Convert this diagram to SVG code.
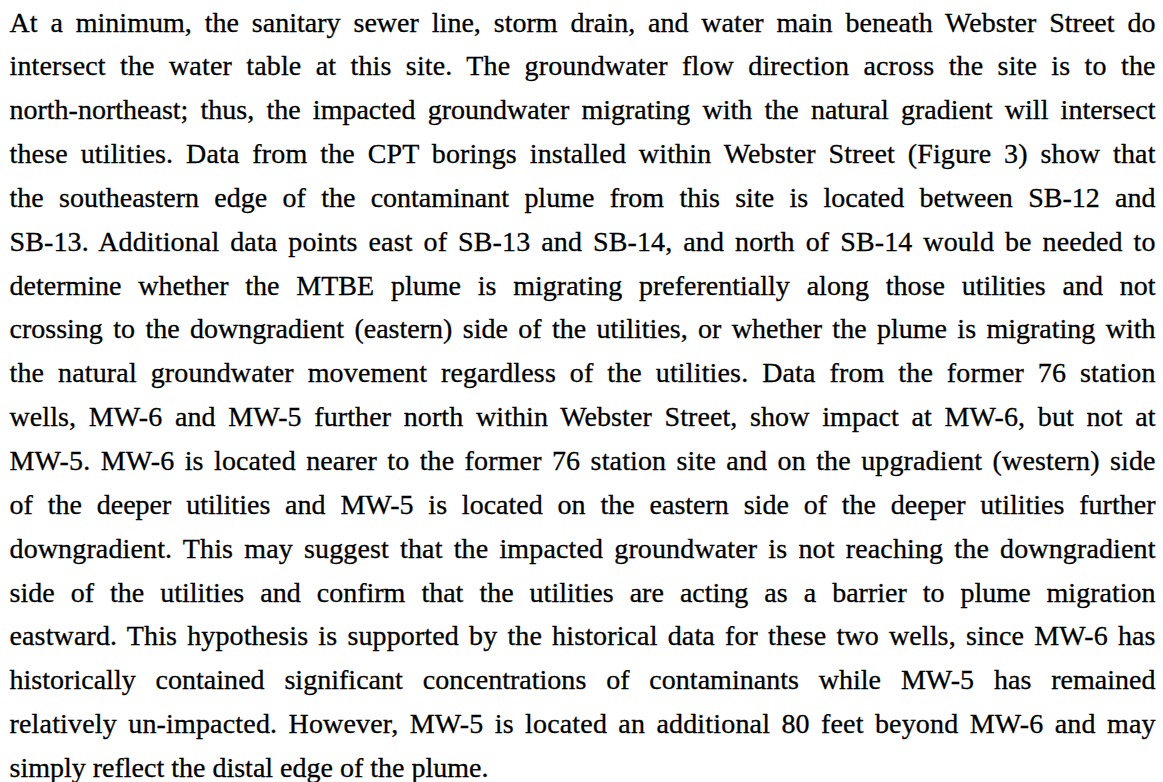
<svg xmlns="http://www.w3.org/2000/svg" width="1163" height="782" viewBox="0 0 1163 782">
<style>
.t{font-family:'Liberation Serif','Times New Roman','DejaVu Serif',serif;font-size:28px;fill:#000;stroke:#000;stroke-width:0.3px;}
</style>
<rect width="1163" height="782" fill="#fff"/>
<g id="paragraph" font-family="Liberation Serif, Times New Roman, DejaVu Serif, serif" font-size="28" xml:space="preserve">
<text class="t" x="9.5" y="31.5" word-spacing="5.8" textLength="1146" lengthAdjust="spacing">At a minimum, the sanitary sewer line, storm drain, and water main beneath Webster Street do</text>
<text class="t" x="9.5" y="75.35" word-spacing="7.1" textLength="1146" lengthAdjust="spacing">intersect the water table at this site.  The groundwater flow direction across the site is to the</text>
<text class="t" x="9.5" y="119.2" word-spacing="5.2" textLength="1146" lengthAdjust="spacing">north-northeast; thus, the impacted groundwater migrating with the natural gradient will intersect</text>
<text class="t" x="9.5" y="163.05" word-spacing="5.6" textLength="1146" lengthAdjust="spacing">these utilities.  Data from the CPT borings installed within Webster Street (Figure 3) show that</text>
<text class="t" x="9.5" y="206.9" word-spacing="8.3" textLength="1146" lengthAdjust="spacing">the southeastern edge of the contaminant plume from this site is located between SB-12 and</text>
<text class="t" x="9.5" y="250.75" word-spacing="3.8" textLength="1146" lengthAdjust="spacing">SB-13.  Additional data points east of SB-13 and SB-14, and north of SB-14 would be needed to</text>
<text class="t" x="9.5" y="294.6" word-spacing="9.8" textLength="1146" lengthAdjust="spacing">determine whether the MTBE plume is migrating preferentially along those utilities and not</text>
<text class="t" x="9.5" y="338.45" word-spacing="3.4" textLength="1146" lengthAdjust="spacing">crossing to the downgradient (eastern) side of the utilities, or whether the plume is migrating with</text>
<text class="t" x="9.5" y="382.3" word-spacing="6.7" textLength="1146" lengthAdjust="spacing">the natural groundwater movement regardless of the utilities.  Data from the former 76 station</text>
<text class="t" x="9.5" y="426.15" word-spacing="5.6" textLength="1146" lengthAdjust="spacing">wells, MW-6 and MW-5 further north within Webster Street, show impact at MW-6, but not at</text>
<text class="t" x="9.5" y="470" word-spacing="3.2" textLength="1146" lengthAdjust="spacing">MW-5.  MW-6 is located nearer to the former 76 station site and on the upgradient (western) side</text>
<text class="t" x="9.5" y="513.85" word-spacing="7.8" textLength="1146" lengthAdjust="spacing">of the deeper utilities and MW-5 is located on the eastern side of the deeper utilities further</text>
<text class="t" x="9.5" y="557.7" word-spacing="4.0" textLength="1146" lengthAdjust="spacing">downgradient.  This may suggest that the impacted groundwater is not reaching the downgradient</text>
<text class="t" x="9.5" y="601.55" word-spacing="9.0" textLength="1146" lengthAdjust="spacing">side of the utilities and confirm that the utilities are acting as a barrier to plume migration</text>
<text class="t" x="9.5" y="645.4" word-spacing="3.0" textLength="1146" lengthAdjust="spacing">eastward.  This hypothesis is supported by the historical data for these two wells, since MW-6 has</text>
<text class="t" x="9.5" y="689.25" word-spacing="12.8" textLength="1146" lengthAdjust="spacing">historically contained significant concentrations of contaminants while MW-5 has remained</text>
<text class="t" x="9.5" y="733.1" word-spacing="4.1" textLength="1146" lengthAdjust="spacing">relatively un-impacted.  However, MW-5 is located an additional 80 feet beyond MW-6 and may</text>
<text class="t" x="9.5" y="776.95">simply reflect the distal edge of the plume.</text>
</g>
</svg>
